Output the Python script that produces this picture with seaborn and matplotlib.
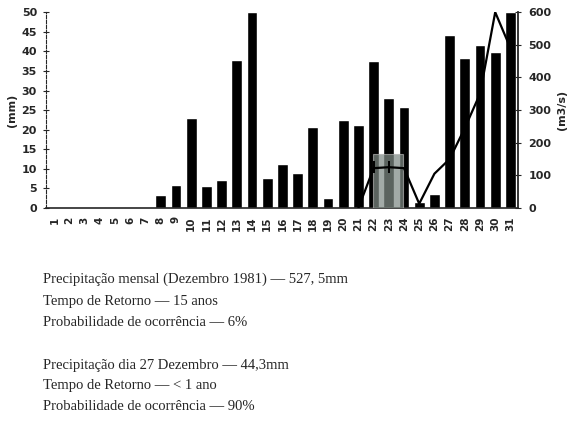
import matplotlib
matplotlib.use("Agg")
import matplotlib.pyplot as plt
import seaborn as sns
import numpy as np
import pandas as pd
from matplotlib.patches import Rectangle

# daily rainfall, December 1981 (mm)
days = list(range(1, 32))
rain_mm = [0.2, 0.1, 0.1, 0.2, 0.1, 0.2, 0.3, 3.4, 5.9, 23.0, 5.7, 7.2, 37.8, 50.0, 7.6, 11.2,
           9.0, 20.7, 2.6, 22.4, 21.3, 37.6, 28.2, 25.8, 1.5, 3.6, 44.3, 38.4, 41.6, 39.8, 50.0]

# discharge (m3/s), only from day 21
flow_days = [21, 22, 23, 24, 25, 26, 27, 28, 29, 30, 31]
flow_m3s = [0, 122, 125, 122, 13, 105, 150, 245, 350, 600, 490]

# highlighted days and their discharge markers
mark_days = [22, 23]
mark_m3s = [125, 125]
box_days = [22, 24]
box_top_mm = 13.8

left_ticks = list(range(0, 55, 5))
right_ticks = list(range(0, 700, 100))

notes = [
    "Precipitação mensal (Dezembro 1981) — 527, 5mm",
    "Tempo de Retorno — 15 anos",
    "Probabilidade de ocorrência — 6%",
    "Precipitação dia 27 Dezembro — 44,3mm",
    "Tempo de Retorno — < 1 ano",
    "Probabilidade de ocorrência — 90%",
]

sns.set_style("white")
plt.rcParams['font.family'] = ['DejaVu Sans']

fig = plt.figure(figsize=(5.68, 4.21), dpi=100)
ax = fig.add_axes([0.081, 0.506, 0.831, 0.465])

df = pd.DataFrame({"day": [str(d) for d in days], "rain": rain_mm})
sns.barplot(data=df, x="day", y="rain", color="black", width=0.72,
            saturation=1, ax=ax, zorder=2)

# washed-out highlight over days 22-23
x0 = box_days[0] - 1 - 0.05
ax.add_patch(Rectangle((x0, 0), box_days[1] - box_days[0], box_top_mm,
                       facecolor="#7f8a85", alpha=0.72, edgecolor="#b0b0b0",
                       linewidth=0.8, zorder=3))

ax.set_xlim(-0.55, 30.4)
ax.set_ylim(0, 50)
ax.set_yticks(left_ticks)
ax.set_xlabel("")
ax.set_ylabel("(mm)", fontsize=8, fontweight="bold", labelpad=3)
ax.tick_params(axis="y", direction="inout", length=5, width=0.8, labelsize=8, pad=4)
ax.tick_params(axis="x", which="major", length=0, labelsize=7.5, pad=6, labelrotation=90)
ax.set_xticks(np.arange(-0.5, 31, 1), minor=True)
ax.tick_params(axis="x", which="minor", direction="out", length=3, width=0.8)
for lbl in ax.get_xticklabels() + ax.get_yticklabels():
    lbl.set_fontweight("bold")

ax.spines["top"].set_visible(False)
ax.spines["left"].set_linestyle((0, (3, 1.5)))
ax.spines["left"].set_linewidth(0.8)
ax.spines["bottom"].set_linewidth(1.2)
ax.spines["right"].set_visible(False)

# discharge on the right axis
ax2 = ax.twinx()
fx = np.array(flow_days) - 1
sns.lineplot(x=fx, y=flow_m3s, color="black", linewidth=1.6, ax=ax2)
ax2.plot(np.array(mark_days) - 1, mark_m3s, linestyle="none", marker="|",
         markersize=8, markeredgewidth=1.4, color="black")
ax2.set_ylim(0, 600)
ax2.set_yticks(right_ticks)
ax2.set_ylabel("(m3/s)", fontsize=8, fontweight="bold", labelpad=4)
ax2.tick_params(axis="y", direction="inout", length=5, width=0.8, labelsize=8, pad=5)
for lbl in ax2.get_yticklabels():
    lbl.set_fontweight("bold")
ax2.spines["top"].set_visible(False)
ax2.spines["left"].set_visible(False)
ax2.spines["bottom"].set_visible(False)
ax2.spines["right"].set_linewidth(1.3)

# notes under the chart
ys = [279, 301, 322, 365, 386, 407]
for txt, y in zip(notes, ys):
    fig.text(43 / 568, 1 - y / 421, txt, fontsize=10.5, va="center", ha="left",
             family=["Liberation Serif", "DejaVu Serif"])

fig.savefig("out.png", dpi=100)
